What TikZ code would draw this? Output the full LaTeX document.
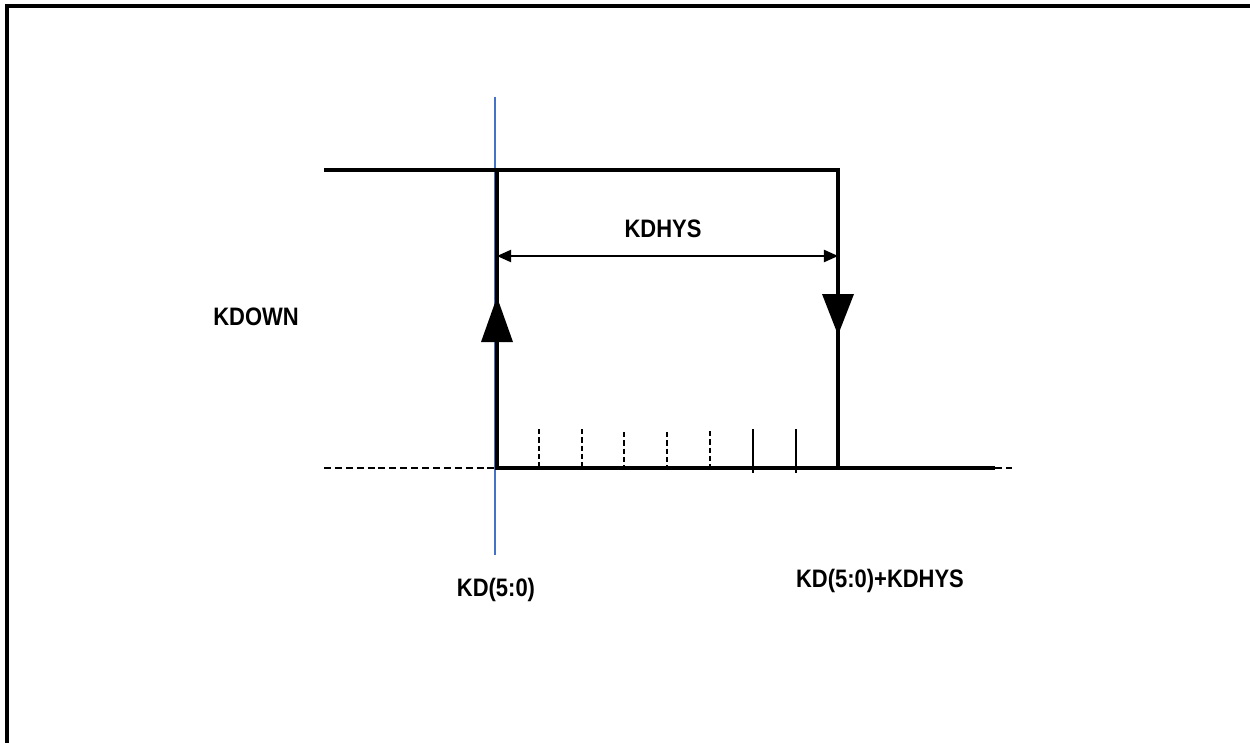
\documentclass[tikz,border=0pt]{standalone}
\usepackage{fontspec}
\setmainfont{Liberation Sans}
\usetikzlibrary{arrows.meta}
\definecolor{markblue}{HTML}{4472C4}
\newcommand{\tallbold}[1]{\scalebox{1}[1.15]{\bfseries #1}}
\begin{document}
\begin{tikzpicture}[x=0.02cm,y=-0.02cm,
    signal/.style={line width=2.3pt},
    lbl/.style={font=\fontsize{12.5}{15}\selectfont},
    dashline/.style={line width=1pt, dash pattern=on 4pt off 2.2pt},
    tickdash/.style={dash pattern=on 3pt off 1.7pt},
    tickmark/.style={line width=0.8pt}]
    \useasboundingbox (0,0) rectangle (1250,743);

    % frame
    \draw[line width=1.8pt] (7,743) -- (7,6) -- (1250,6);

    \coordinate (hiL) at (324,170);
    \coordinate (rise) at (497,170);
    \coordinate (fall) at (838,170);
    \coordinate (riseLo) at (497,468);
    \coordinate (fallLo) at (838,468);
    \coordinate (loEnd) at (995,468);
    \coordinate (loFar) at (1012,468);
    \coordinate (loL) at (324,468);

    \draw[markblue, line width=0.6pt] (495,97) -- (495,555);

    \draw[signal] (hiL) -- (fall) -- (fallLo) -- (loEnd);
    \draw[signal] (rise) -- (riseLo) -- (fallLo);
    \draw[dashline] (loL) -- (riseLo);
    \draw[dashline] (loEnd) -- (loFar);

    \fill (497,297) -- (481,342) -- (513,342) -- cycle;
    \fill (838,335) -- (822,294) -- (854,294) -- cycle;

    \draw[{Triangle[length=8pt,width=7pt]}-{Triangle[length=8pt,width=7pt]}, line width=0.7pt]
        (497,256) -- (838,256);

    \foreach \x/\t/\b/\s in {539/429/468/tickdash, 582/429/468/tickdash,
        624/432/473/tickdash, 667/432/473/tickdash, 710/431/471/tickdash,
        753/429/473/solid, 796/429/473/solid}
        \draw[tickmark, \s] (\x,\t) -- (\x,\b);

    \node[lbl] (hys) at (663,229) {\tallbold{KDHYS}};
    \node[lbl] (kdown) at (256,317) {\tallbold{KDOWN}};
    \node[lbl] (kd) at (496,590) {\tallbold{KD(5:0)}};
    \node[lbl] (kdsum) at (880,581) {\tallbold{KD(5:0)+KDHYS}};
\end{tikzpicture}
\end{document}
